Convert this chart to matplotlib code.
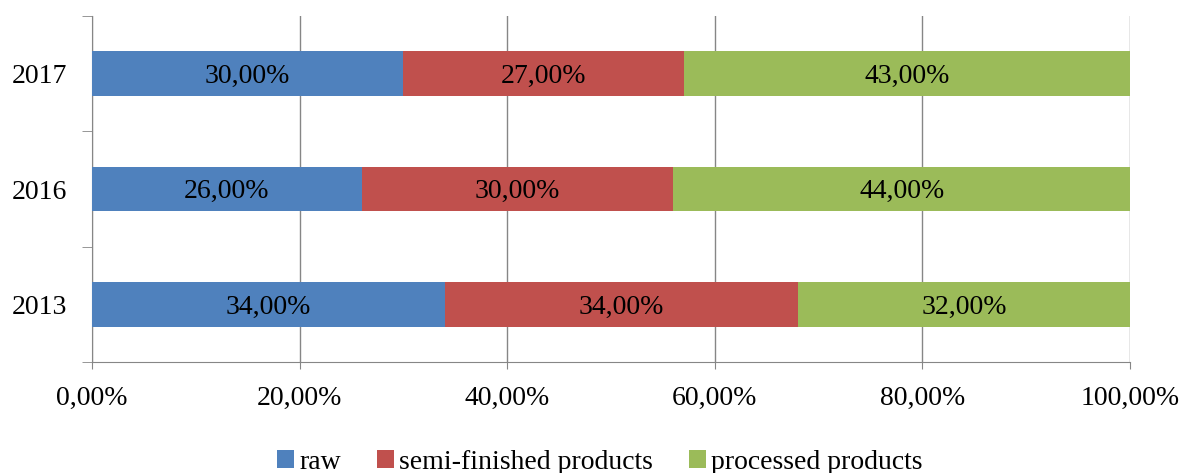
import matplotlib
matplotlib.use("Agg")
import matplotlib.pyplot as plt
import numpy as np

years = ["2013", "2016", "2017"]
series_names = ["raw", "semi-finished products", "processed products"]
raw = [34.0, 26.0, 30.0]
semi = [34.0, 30.0, 27.0]
processed = [32.0, 44.0, 43.0]
colors = ["#4F81BD", "#C0504D", "#9BBB59"]
xticks = [0, 20, 40, 60, 80, 100]

plt.rcParams["font.family"] = ["Liberation Serif", "DejaVu Serif"]

fig = plt.figure(figsize=(11.89, 4.73), dpi=100)
ax = fig.add_axes([92 / 1189, 1 - 362 / 473, (1130 - 92) / 1189, (362 - 16) / 473])

y = np.arange(len(years))
left = np.zeros(len(years))
for name, vals, c in zip(series_names, [raw, semi, processed], colors):
    bars = ax.barh(y, vals, left=left, height=0.39, color=c, label=name, zorder=3)
    for b, v in zip(bars, vals):
        ax.annotate(f"{v:.2f}%".replace(".", ","),
                    xy=(b.get_x() + b.get_width() / 2, b.get_y() + b.get_height() / 2),
                    xytext=(0, -2), textcoords="offset points",
                    ha="center", va="center", fontsize=20, color="black", zorder=4)
    left += np.array(vals)

ax.set_xlim(0, 100)
ax.set_ylim(-0.5, 2.5)
ax.set_xticks(xticks)
ax.set_xticklabels([f"{t:.2f}%".replace(".", ",") for t in xticks], fontsize=20)
ax.set_yticks(y)
ax.set_yticklabels(years, fontsize=20, va="center_baseline")
ax.set_yticks([-0.5, 0.5, 1.5, 2.5], minor=True)
ax.tick_params(axis="y", which="major", length=0, pad=18)
ax.tick_params(axis="y", which="minor", length=7, color="#868686", direction="out")
ax.tick_params(axis="x", which="major", length=5, color="#868686", direction="out", pad=12)

ax.grid(axis="x", color="#868686", linewidth=1.0, zorder=0)
for side in ["top", "right"]:
    ax.spines[side].set_visible(False)
ax.spines["left"].set_color("#868686")
ax.spines["bottom"].set_color("#868686")

fig.legend(loc="center", bbox_to_anchor=(600 / 1189, 1 - 462 / 473), ncol=3,
           frameon=False, fontsize=20, handlelength=0.6, handleheight=0.6,
           handletextpad=0.2, columnspacing=1.3)

fig.savefig("out.png", dpi=100)
